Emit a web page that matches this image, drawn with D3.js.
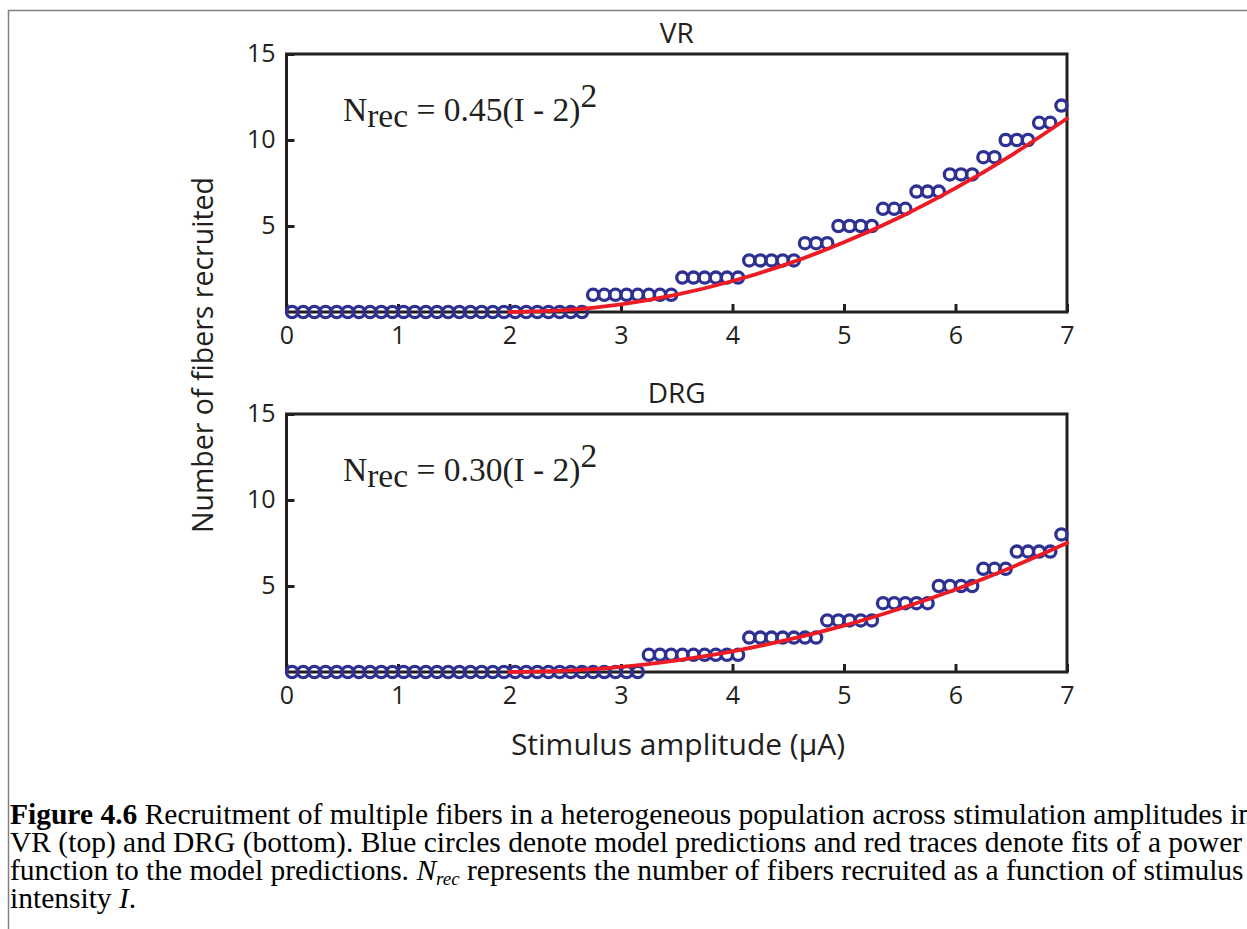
<!DOCTYPE html>
<html><head><meta charset="utf-8">
<script src="https://cdn.jsdelivr.net/npm/d3@7"></script>
<style>body{margin:0;background:#fff;} svg{display:block}</style>
</head><body>
<svg id="c" width="1247" height="929"></svg>
<script>
// ---- data ----
const amplitude = [0.05,0.15,0.25,0.35,0.45,0.55,0.65,0.75,0.85,0.95,
  1.05,1.15,1.25,1.35,1.45,1.55,1.65,1.75,1.85,1.95,
  2.05,2.15,2.25,2.35,2.45,2.55,2.65,2.75,2.85,2.95,
  3.05,3.15,3.25,3.35,3.45,3.55,3.65,3.75,3.85,3.95,
  4.05,4.15,4.25,4.35,4.45,4.55,4.65,4.75,4.85,4.95,
  5.05,5.15,5.25,5.35,5.45,5.55,5.65,5.75,5.85,5.95,
  6.05,6.15,6.25,6.35,6.45,6.55,6.65,6.75,6.85,6.95];
const vrCount = [0,0,0,0,0,0,0,0,0,0, 0,0,0,0,0,0,0,0,0,0, 0,0,0,0,0,0,0,
  1,1,1,1,1,1,1,1, 2,2,2,2,2,2, 3,3,3,3,3, 4,4,4, 5,5,5,5, 6,6,6, 7,7,7, 8,8,8,
  9,9, 10,10,10, 11,11, 12];
const drgCount = [0,0,0,0,0,0,0,0,0,0, 0,0,0,0,0,0,0,0,0,0, 0,0,0,0,0,0,0,0,0,0, 0,0,
  1,1,1,1,1,1,1,1,1, 2,2,2,2,2,2,2, 3,3,3,3,3, 4,4,4,4,4, 5,5,5,5, 6,6,6, 7,7,7,7, 8];
const fitAmplitude = [2,2.5,3,3.5,4,4.5,5,5.5,6,6.5,7];
const vrFit  = [0,0.11,0.45,1.01,1.8,2.81,4.05,5.51,7.2,9.11,11.25];
const drgFit = [0,0.08,0.3,0.68,1.2,1.88,2.7,3.68,4.8,6.08,7.5];
const xTicks = [0,1,2,3,4,5,6,7];
const yTicks = [5,10,15];
const panelTitles = ["VR","DRG"];
const panelCoef = ["0.45","0.30"];

// ---- drawing ----
const svg = d3.select("#c");
const SANS = "'Open Sans', sans-serif";
const SERIF = "'Liberation Serif', 'Times New Roman', serif";
const AX = "#231f20", BLUE = "#2e3192", RED = "#ed1c24";

svg.append("rect").attr("x",8.5).attr("y",10.5).attr("width",1400).attr("height",1100)
  .attr("fill","none").attr("stroke","#808080").attr("stroke-width",1.5);

const x = d3.scaleLinear().domain([0,7]).range([286.5,1067]);
const panels = [
  {top:54, bottom:312, counts:vrCount, fit:vrFit},
  {top:414, bottom:672, counts:drgCount, fit:drgFit}
];

panels.forEach((p,i)=>{
  const y = d3.scaleLinear().domain([0,15]).range([p.bottom,p.top]);
  const g = svg.append("g");

  const xa = g.append("g").attr("transform",`translate(0,${p.bottom})`)
    .call(d3.axisBottom(x).tickValues(xTicks).tickSize(-8).tickPadding(14).tickFormat(d3.format("d")));
  const ya = g.append("g").attr("transform",`translate(${x(0)},0)`)
    .call(d3.axisLeft(y).tickValues(yTicks).tickSize(-8).tickPadding(11).tickFormat(d3.format("d")));
  [xa,ya].forEach(a=>{
    a.select(".domain").remove();
    a.selectAll(".tick line").attr("stroke",AX).attr("stroke-width",3);
    a.selectAll(".tick text").attr("fill",AX).style("font-family",SANS).style("font-size","25px");
  });
  ya.selectAll(".tick text").attr("dy","0.3em");

  g.append("rect").attr("x",x(0)).attr("y",y(15)).attr("width",x(7)-x(0)).attr("height",y(0)-y(15))
    .attr("fill","none").attr("stroke",AX).attr("stroke-width",3);

  g.append("text").attr("x",(x(0)+x(7))/2).attr("y",p.top-11).attr("text-anchor","middle")
    .style("font-family",SANS).style("font-size","28px").attr("fill",AX).text(panelTitles[i]);

  const eq = g.append("text").attr("x",343).attr("y",p.top+67)
    .style("font-family",SERIF).style("font-size","33.5px").attr("fill","#231f20");
  eq.append("tspan").text("N");
  eq.append("tspan").attr("dy",6).text("rec");
  eq.append("tspan").attr("dy",-6).text(" = " + panelCoef[i] + "(I - 2)");
  eq.append("tspan").attr("dy",-14).text("2");

  g.append("g").selectAll("circle").data(amplitude).join("circle")
    .attr("cx",d=>x(d)).attr("cy",(d,k)=>y(p.counts[k])).attr("r",5.6)
    .attr("fill","none").attr("stroke",BLUE).attr("stroke-width",3.3);

  const line = d3.line().x(d=>x(d)).y((d,k)=>y(p.fit[k])).curve(d3.curveCatmullRom);
  g.append("path").datum(fitAmplitude).attr("d",line)
    .attr("fill","none").attr("stroke",RED).attr("stroke-width",3.8).attr("stroke-linecap","round");
});

svg.append("text").attr("transform","translate(213,355) rotate(-90)").attr("text-anchor","middle")
  .style("font-family",SANS).style("font-size","28.5px").attr("fill",AX).text("Number of fibers recruited");
svg.append("text").attr("x",678).attr("y",755).attr("text-anchor","middle")
  .style("font-family",SANS).style("font-size","30px").attr("fill",AX).text("Stimulus amplitude (µA)");

const cap = svg.append("g").style("font-family",SERIF).style("font-size","29.5px").attr("fill","#000");
const l1 = cap.append("text").attr("x",10).attr("y",824);
l1.append("tspan").attr("font-weight","bold").text("Figure 4.6");
l1.append("tspan").text(" Recruitment of multiple fibers in a heterogeneous population across stimulation amplitudes in");
cap.append("text").attr("x",10).attr("y",852)
  .text("VR (top) and DRG (bottom). Blue circles denote model predictions and red traces denote fits of a power");
const l3 = cap.append("text").attr("x",10).attr("y",880);
l3.append("tspan").text("function to the model predictions. ");
l3.append("tspan").attr("font-style","italic").text("N");
l3.append("tspan").attr("font-style","italic").attr("font-size","19px").attr("dy",5).text("rec");
l3.append("tspan").attr("dy",-5).text(" represents the number of fibers recruited as a function of stimulus");
const l4 = cap.append("text").attr("x",10).attr("y",908);
l4.append("tspan").text("intensity ");
l4.append("tspan").attr("font-style","italic").text("I");
l4.append("tspan").text(".");
</script>
</body></html>
